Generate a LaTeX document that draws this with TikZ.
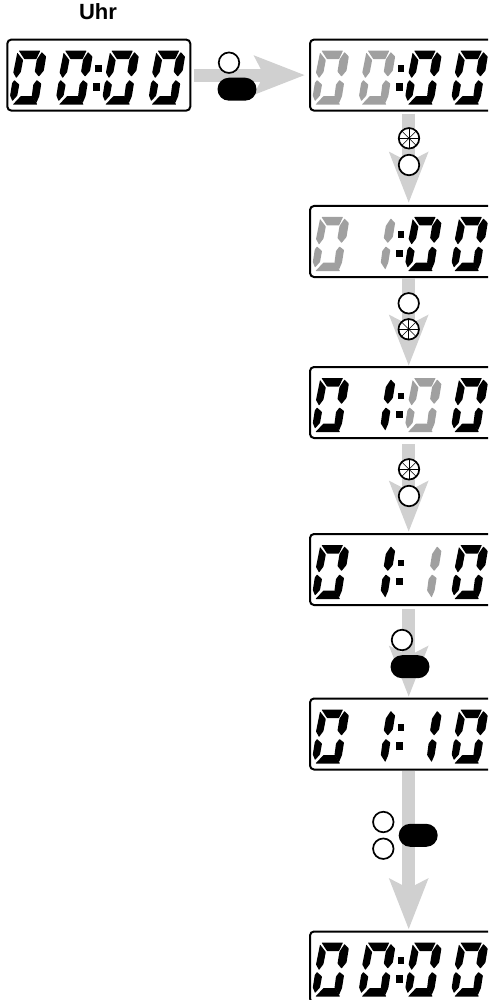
\documentclass[tikz,border=0pt]{standalone}
\usepackage{fontspec}
\setmainfont{Liberation Sans}
\usetikzlibrary{arrows.meta,shapes.misc}
\definecolor{arrowgray}{HTML}{D0D0D0}
\definecolor{seggray}{HTML}{A0A0A0}
\tikzset{
  lcdbox/.style={draw=black,fill=white,line width=2pt,rounded corners=4pt,minimum width=183pt,minimum height=71pt,inner sep=0pt,outer sep=0pt,anchor=north west},
  bigarrow/.style={draw=arrowgray,line width=13pt,-{Stealth[length=50pt,width=37.5pt,inset=9pt]}},
  btn/.style={circle,draw=black,fill=white,line width=1.7pt,minimum size=20.5pt,inner sep=0pt,outer sep=0pt},
  pill/.style={rounded rectangle,fill=black,minimum width=39pt,minimum height=23pt,inner sep=0pt,outer sep=0pt},
  spoke/.style={draw=black,line width=0.5pt},
  seg/.style={rounded corners=0.5pt},
  title/.style={font=\bfseries\fontsize{22}{26}\selectfont}
}
\newcommand\segT{(11.5,11)--(33,11)--(29,19.5)--(17,19.5)--cycle}
\newcommand\segUL{(10,13)--(15.8,20.5)--(13.5,32.5)--(9,38.5)--(6,33)--cycle}
\newcommand\segLL{(7,40.5)--(12,45)--(10,56)--(5,61.5)--(2.8,56)--(4.8,43.5)--cycle}
\newcommand\segB{(5.5,65)--(13.5,56.5)--(25,56.5)--(30,65)--cycle}
\newcommand\segUR{(34.5,12.5)--(38.8,17)--(36.5,31)--(31.5,37)--(27.5,32)--(29.5,20)--cycle}
\newcommand\segLR{(29.5,40.5)--(34,44)--(32,56.5)--(29,63.5)--(24.5,56.5)--(26,45)--cycle}
\newcommand\zeroD[2]{\begin{scope}[shift={(#2*46.3,0)}]
  \fill[#1,seg] \segT; \fill[#1,seg] \segUL; \fill[#1,seg] \segLL;
  \fill[#1,seg] \segB; \fill[#1,seg] \segUR; \fill[#1,seg] \segLR;
\end{scope}}
\newcommand\oneD[2]{\begin{scope}[shift={(#2*46.3,0)}]
  \fill[#1,seg] \segUR; \fill[#1,seg] \segLR;
\end{scope}}
\newcommand\lcd[4]{%
  \node[lcdbox] (#1) at (#2,#3) {};
  \begin{scope}[shift={(#1.north west)}]
    #4
    \fill[black] (88,25.5) rectangle (94.4,32.2);
    \fill[black] (86,43.8) rectangle (92.5,51.4);
  \end{scope}}
\newcommand\starbtn[3]{%
  \node[btn] (#1) at (#2,#3) {};
  \foreach \a in {0,45,90,135}{\draw[spoke] (#1.\a) -- (#1.\a+180);}
  \fill[black] (#1.center) circle (1.2pt);}
\begin{document}
\begin{tikzpicture}[x=1pt,y=-1pt]
\useasboundingbox (0,0) rectangle (488,1000);
\clip (0,0) rectangle (488,1000);
\node[title] (uhr) at (98,12) {Uhr};
\lcd{d0}{7.3}{39.6}{\zeroD{black}{0}\zeroD{black}{1}\zeroD{black}{2}\zeroD{black}{3}}
\lcd{d1}{310}{39.6}{\zeroD{seggray}{0}\zeroD{seggray}{1}\zeroD{black}{2}\zeroD{black}{3}}
\lcd{d2}{310}{206}{\zeroD{seggray}{0}\oneD{seggray}{1}\zeroD{black}{2}\zeroD{black}{3}}
\lcd{d3}{310}{367}{\zeroD{black}{0}\oneD{black}{1}\zeroD{seggray}{2}\zeroD{black}{3}}
\lcd{d4}{310}{534}{\zeroD{black}{0}\oneD{black}{1}\oneD{seggray}{2}\zeroD{black}{3}}
\lcd{d5}{310}{698.5}{\zeroD{black}{0}\oneD{black}{1}\oneD{black}{2}\zeroD{black}{3}}
\lcd{d6}{310}{931.5}{\zeroD{black}{0}\zeroD{black}{1}\zeroD{black}{2}\zeroD{black}{3}}
\coordinate (ax) at (408.7,0);
\draw[bigarrow,shorten <=4pt,shorten >=5pt] (d0.east) -- (d1.west);
\draw[bigarrow,shorten <=3pt,shorten >=3pt] (ax |- d1.south) -- (ax |- d2.north);
\draw[bigarrow,shorten <=1pt,shorten >=1pt] (ax |- d2.south) -- (ax |- d3.north);
\draw[bigarrow,shorten <=6pt,shorten >=2pt] (ax |- d3.south) -- (ax |- d4.north);
\draw[bigarrow,shorten <=4pt,shorten >=1.5pt] (ax |- d4.south) -- (ax |- d5.north);
\draw[bigarrow,shorten <=1pt,shorten >=2pt] (ax |- d5.south) -- (ax |- d6.north);
\node[btn] (b0) at (229,62.7) {};
\node[pill] (p0) at (237,89.2) {};
\starbtn{s1}{409}{138.3}
\node[btn] (b1) at (409,165) {};
\node[btn] (b2) at (408.7,303.3) {};
\starbtn{s2}{408.7}{329.3}
\starbtn{s3}{409}{469.3}
\node[btn] (b3) at (409,496) {};
\node[btn] (b4) at (402,640) {};
\node[pill] (p4) at (410,666.7) {};
\node[btn] (b5) at (383.3,822) {};
\node[btn] (b6) at (383.3,848.7) {};
\node[pill] (p5) at (418.2,835.3) {};
\end{tikzpicture}
\end{document}
